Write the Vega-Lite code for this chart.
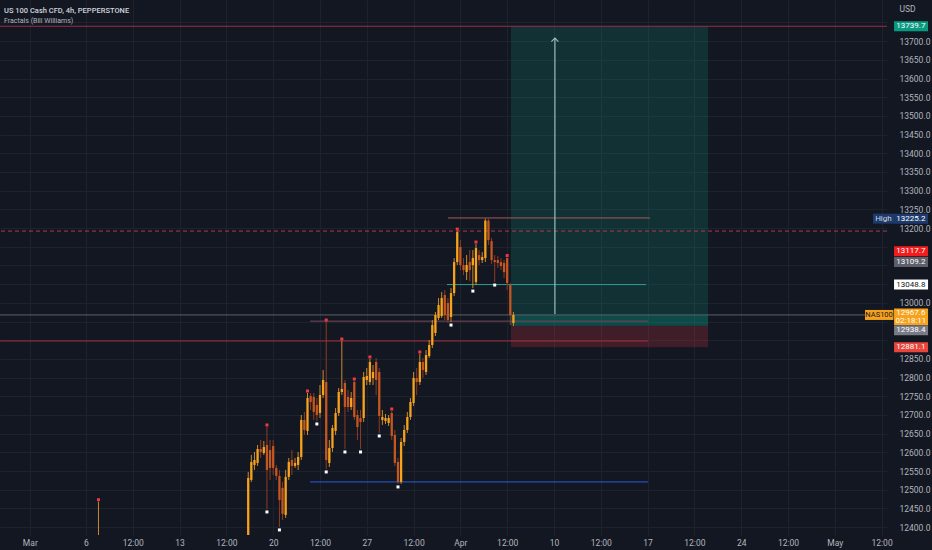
{
  "$schema": "https://vega.github.io/schema/vega-lite/v6.json",
  "width": 887,
  "height": 535,
  "autosize": {"type": "none"},
  "padding": {"left": 0, "top": 0, "right": 45, "bottom": 15},
  "background": "#131722",
  "config": {
    "view": {"stroke": null},
    "font": "Roboto",
    "axis": {"domain": false, "ticks": false, "tickSize": 0, "labelColor": "#b2b5be", "labelFontSize": 8.5, "labelFont": "Roboto", "gridColor": "#1e222d", "gridWidth": 1, "labelOverlap": false}
  },
  "title": {
    "text": "US 100 Cash CFD, 4h, PEPPERSTONE",
    "subtitle": "Fractals (Bill Williams)",
    "anchor": "start", "frame": "group", "orient": "top", "offset": -24, "dx": 4,
    "font": "Roboto", "fontSize": 7.5, "fontWeight": 500, "color": "#d1d4dc",
    "subtitleFont": "Roboto", "subtitleFontSize": 7, "subtitleColor": "#b2b5be", "subtitlePadding": 3
  },
  "datasets": {
    "position": [{"start": 136.2, "end": 199.4, "entry": 12938.4, "target": 13739.7, "stop": 12881.1, "last": 12967.6}],
    "levels": [
      {"p": 13227, "a": 116, "b": 180.8, "k": "high"},
      {"p": 13048.8, "a": 115.7, "b": 179.5, "k": "teal"},
      {"p": 12951, "a": 71.8, "b": 180.1, "k": "mid"},
      {"p": 12898, "a": -30, "b": 180.1, "k": "red"},
      {"p": 12521, "a": 71.8, "b": 180.1, "k": "blue"}
    ],
    "candles": [
      {"i": 4, "o": 12300, "h": 12468, "l": 12290, "c": 12340, "fu": 1},
      {"i": 52, "o": 12352.5, "h": 12547.7, "l": 12344.5, "c": 12531.6},
      {"i": 53, "o": 12526.3, "h": 12593.1, "l": 12520.9, "c": 12574.4},
      {"i": 54, "o": 12566.4, "h": 12601.1, "l": 12553.0, "c": 12579.7},
      {"i": 55, "o": 12571.7, "h": 12619.8, "l": 12563.7, "c": 12609.1},
      {"i": 56, "o": 12609.1, "h": 12633.2, "l": 12585.1, "c": 12601.1},
      {"i": 57, "o": 12598.4, "h": 12630.5, "l": 12593.1, "c": 12614.5},
      {"i": 58, "o": 12619.8, "h": 12667.9, "l": 12448.7, "c": 12553.0, "fu": 1, "fd": 1},
      {"i": 59, "o": 12606.3, "h": 12633.2, "l": 12526.3, "c": 12558.4},
      {"i": 60, "o": 12617.1, "h": 12633.2, "l": 12539.6, "c": 12558.4},
      {"i": 61, "o": 12558.4, "h": 12566.4, "l": 12526.3, "c": 12537.0},
      {"i": 62, "o": 12537.0, "h": 12553.0, "l": 12400.6, "c": 12472.8, "fd": 1},
      {"i": 63, "o": 12504.9, "h": 12520.9, "l": 12419.3, "c": 12435.4},
      {"i": 64, "o": 12432.7, "h": 12553.0, "l": 12424.7, "c": 12534.3},
      {"i": 65, "o": 12534.3, "h": 12585.1, "l": 12526.3, "c": 12574.4},
      {"i": 66, "o": 12579.7, "h": 12606.3, "l": 12539.6, "c": 12563.7},
      {"i": 67, "o": 12563.7, "h": 12585.1, "l": 12558.4, "c": 12571.7},
      {"i": 68, "o": 12566.4, "h": 12601.1, "l": 12553.0, "c": 12587.7},
      {"i": 69, "o": 12587.7, "h": 12700.0, "l": 12579.7, "c": 12686.7},
      {"i": 70, "o": 12686.7, "h": 12708.1, "l": 12646.6, "c": 12659.9},
      {"i": 71, "o": 12657.3, "h": 12758.8, "l": 12646.6, "c": 12745.5, "fu": 1},
      {"i": 72, "o": 12750.8, "h": 12758.8, "l": 12713.4, "c": 12734.8},
      {"i": 73, "o": 12748.1, "h": 12758.8, "l": 12686.7, "c": 12708.1},
      {"i": 74, "o": 12726.8, "h": 12745.5, "l": 12684.0, "c": 12700.0, "fd": 1},
      {"i": 75, "o": 12705.4, "h": 12780.2, "l": 12692.0, "c": 12753.5},
      {"i": 76, "o": 12753.5, "h": 12820.3, "l": 12745.5, "c": 12793.6},
      {"i": 77, "o": 12788.2, "h": 12948.6, "l": 12555.7, "c": 12579.7, "fu": 1, "fd": 1},
      {"i": 78, "o": 12571.7, "h": 12633.2, "l": 12561.0, "c": 12611.8},
      {"i": 79, "o": 12611.8, "h": 12673.3, "l": 12601.1, "c": 12665.3},
      {"i": 80, "o": 12657.3, "h": 12718.8, "l": 12646.6, "c": 12705.4},
      {"i": 81, "o": 12705.4, "h": 12772.2, "l": 12697.4, "c": 12761.5},
      {"i": 82, "o": 12761.5, "h": 12897.8, "l": 12753.5, "c": 12769.5, "fu": 1},
      {"i": 83, "o": 12785.5, "h": 12793.6, "l": 12609.1, "c": 12721.4, "fd": 1},
      {"i": 84, "o": 12748.1, "h": 12766.8, "l": 12708.1, "c": 12721.4},
      {"i": 85, "o": 12721.4, "h": 12761.5, "l": 12713.4, "c": 12745.5},
      {"i": 86, "o": 12788.2, "h": 12790.9, "l": 12686.7, "c": 12694.7, "fu": 1},
      {"i": 87, "o": 12700.0, "h": 12713.4, "l": 12633.2, "c": 12667.9},
      {"i": 88, "o": 12692.0, "h": 12713.4, "l": 12609.1, "c": 12681.3, "fd": 1},
      {"i": 89, "o": 12692.0, "h": 12815.0, "l": 12681.3, "c": 12801.6},
      {"i": 90, "o": 12793.6, "h": 12825.7, "l": 12780.2, "c": 12804.3},
      {"i": 91, "o": 12788.2, "h": 12849.8, "l": 12780.2, "c": 12841.7, "fu": 1},
      {"i": 92, "o": 12798.9, "h": 12833.7, "l": 12780.2, "c": 12815.0},
      {"i": 93, "o": 12841.7, "h": 12852.4, "l": 12753.5, "c": 12793.6},
      {"i": 94, "o": 12815.0, "h": 12825.7, "l": 12651.9, "c": 12697.4, "fd": 1},
      {"i": 95, "o": 12686.7, "h": 12713.4, "l": 12673.3, "c": 12694.7},
      {"i": 96, "o": 12684.0, "h": 12702.7, "l": 12676.0, "c": 12692.0},
      {"i": 97, "o": 12678.6, "h": 12700.0, "l": 12670.6, "c": 12692.0},
      {"i": 98, "o": 12705.4, "h": 12710.7, "l": 12633.2, "c": 12643.9, "fu": 1},
      {"i": 99, "o": 12646.6, "h": 12659.9, "l": 12563.7, "c": 12571.7},
      {"i": 100, "o": 12574.4, "h": 12585.1, "l": 12515.6, "c": 12520.9, "fd": 1},
      {"i": 101, "o": 12520.9, "h": 12638.5, "l": 12515.6, "c": 12627.9},
      {"i": 102, "o": 12627.9, "h": 12673.3, "l": 12617.1, "c": 12659.9},
      {"i": 103, "o": 12659.9, "h": 12708.1, "l": 12651.9, "c": 12694.7},
      {"i": 104, "o": 12694.7, "h": 12745.5, "l": 12686.7, "c": 12734.8},
      {"i": 105, "o": 12732.1, "h": 12815.0, "l": 12724.1, "c": 12798.9},
      {"i": 106, "o": 12798.9, "h": 12825.7, "l": 12753.5, "c": 12788.2},
      {"i": 107, "o": 12788.2, "h": 12863.1, "l": 12780.2, "c": 12841.7, "fu": 1},
      {"i": 108, "o": 12841.7, "h": 12852.4, "l": 12798.9, "c": 12820.3},
      {"i": 109, "o": 12815.0, "h": 12873.8, "l": 12807.0, "c": 12860.5},
      {"i": 110, "o": 12857.8, "h": 12900.5, "l": 12852.4, "c": 12887.2},
      {"i": 111, "o": 12887.2, "h": 12954.0, "l": 12879.2, "c": 12940.6},
      {"i": 112, "o": 12919.2, "h": 12975.4, "l": 12911.2, "c": 12967.4},
      {"i": 113, "o": 12959.3, "h": 13012.8, "l": 12954.0, "c": 12994.1},
      {"i": 114, "o": 12964.7, "h": 13028.8, "l": 12959.3, "c": 13012.8},
      {"i": 115, "o": 13020.8, "h": 13034.1, "l": 12954.0, "c": 12967.4},
      {"i": 116, "o": 12999.4, "h": 13012.8, "l": 12946.0, "c": 12954.0},
      {"i": 117, "o": 12962.0, "h": 13039.5, "l": 12948.6, "c": 13026.1, "fd": 1},
      {"i": 118, "o": 13026.1, "h": 13119.7, "l": 13018.1, "c": 13109.0},
      {"i": 119, "o": 13109.0, "h": 13191.9, "l": 13101.0, "c": 13189.2, "fu": 1},
      {"i": 120, "o": 13149.2, "h": 13167.8, "l": 13087.6, "c": 13101.0},
      {"i": 121, "o": 13101.0, "h": 13119.7, "l": 13074.3, "c": 13087.6},
      {"i": 122, "o": 13082.3, "h": 13127.8, "l": 13060.9, "c": 13101.0},
      {"i": 123, "o": 13109.0, "h": 13141.1, "l": 13058.2, "c": 13087.6},
      {"i": 124, "o": 13101.0, "h": 13141.1, "l": 13039.5, "c": 13119.7, "fd": 1},
      {"i": 125, "o": 13055.6, "h": 13157.2, "l": 13047.5, "c": 13146.5, "fu": 1},
      {"i": 126, "o": 13127.8, "h": 13141.1, "l": 13101.0, "c": 13114.4},
      {"i": 127, "o": 13114.4, "h": 13135.8, "l": 13106.4, "c": 13122.4},
      {"i": 128, "o": 13119.7, "h": 13225.2, "l": 13109.0, "c": 13220.0},
      {"i": 129, "o": 13220.0, "h": 13225.0, "l": 13154.5, "c": 13167.8},
      {"i": 130, "o": 13165.2, "h": 13173.2, "l": 13103.7, "c": 13114.4},
      {"i": 131, "o": 13114.4, "h": 13127.8, "l": 13055.6, "c": 13109.0, "fd": 1},
      {"i": 132, "o": 13114.4, "h": 13125.1, "l": 13093.0, "c": 13106.4},
      {"i": 133, "o": 13109.0, "h": 13119.7, "l": 13087.6, "c": 13098.4},
      {"i": 134, "o": 13106.4, "h": 13114.4, "l": 13066.2, "c": 13082.3},
      {"i": 135, "o": 13119.7, "h": 13121.1, "l": 13034.1, "c": 13052.9, "fu": 1},
      {"i": 136, "o": 13047.5, "h": 13052.9, "l": 12940.6, "c": 12967.4},
      {"i": 137, "o": 12946.0, "h": 12975.4, "l": 12938.0, "c": 12967.6}
    ],
    "tags": [
      {"v": 13739.7, "k": "target"},
      {"v": 13225.2, "k": "high"},
      {"v": 13109.2, "k": "gray1"},
      {"v": 13048.8, "k": "white"},
      {"v": 12881.1, "k": "red2"}
    ]
  },
  "layer": [
    {
      "data": {"name": "position"},
      "mark": {"type": "rect", "color": "#089981", "opacity": 0.2},
      "encoding": {
        "x": {"field": "start", "type": "quantitative",
          "scale": {"domain": [-27.56, 256.74], "nice": false, "zero": false, "padding": 0},
          "axis": {"orient": "bottom", "title": null, "grid": true, "tickCount": 40,
            "values": [-18, 0, 15, 30, 45, 60, 75, 90, 105, 120, 135, 150, 165, 180, 195, 210, 225, 240, 255],
            "labelExpr": "datum.value < 0 ? 'Mar' : ['6','12:00','13','12:00','20','12:00','27','12:00','Apr','12:00','10','12:00','17','12:00','24','12:00','May','12:00'][round(datum.value/15)]",
            "labelOverlap": false, "labelFlush": false, "labelPadding": 3, "labelBaseline": "top"}},
        "x2": {"field": "end"},
        "y": {"field": "entry", "type": "quantitative",
          "scale": {"domain": [12379, 13810], "nice": false, "zero": false, "padding": 0},
          "axis": {"orient": "right", "title": "USD", "grid": true, "tickCount": 40,
            "values": [12400, 12450, 12500, 12550, 12600, 12650, 12700, 12750, 12800, 12850, 12900, 12950, 13000, 13050, 13100, 13150, 13200, 13250, 13300, 13350, 13400, 13450, 13500, 13550, 13600, 13650, 13700, 13750],
            "labelExpr": "indexof([13750, 13150, 13100, 13050, 12950, 12900], datum.value) >= 0 ? '' : format(datum.value, '.1f')",
            "labelAlign": "left", "labelPadding": 12, "labelOverlap": false, "labelFlush": false,
            "titleAngle": 0, "titleX": 12, "titleY": 8, "titleAlign": "left", "titleBaseline": "middle",
            "titleFontSize": 8.5, "titleFontWeight": "normal", "titleColor": "#b2b5be", "titleFont": "Roboto"}},
        "y2": {"field": "target"}
      }
    },
    {
      "data": {"name": "position"},
      "mark": {"type": "rect", "color": "#f23645", "opacity": 0.2},
      "encoding": {
        "x": {"field": "start", "type": "quantitative"},
        "x2": {"field": "end"},
        "y": {"field": "stop", "type": "quantitative"},
        "y2": {"field": "entry"}
      }
    },
    {
      "data": {"name": "position"},
      "mark": {"type": "rect", "color": "#089981", "opacity": 0.25},
      "encoding": {
        "x": {"field": "start", "type": "quantitative"},
        "x2": {"field": "end"},
        "y": {"field": "entry", "type": "quantitative"},
        "y2": {"field": "last"}
      }
    },
    {
      "data": {"values": [{"p": 13739.7}]},
      "mark": {"type": "rule", "color": "#9b2b46", "strokeWidth": 1},
      "encoding": {"y": {"field": "p", "type": "quantitative"}}
    },
    {
      "data": {"values": [{"p": 13192}]},
      "mark": {"type": "rule", "color": "#b5384b", "strokeWidth": 1, "strokeDash": [4, 3]},
      "encoding": {"y": {"field": "p", "type": "quantitative"}}
    },
    {
      "data": {"values": [{"p": 12967.6}]},
      "mark": {"type": "rule", "color": "#5d606b", "strokeWidth": 1},
      "encoding": {"y": {"field": "p", "type": "quantitative"}}
    },
    {
      "data": {"name": "levels"},
      "mark": {"type": "rule", "strokeWidth": 1, "clip": true},
      "encoding": {
        "x": {"field": "a", "type": "quantitative"},
        "x2": {"field": "b"},
        "y": {"field": "p", "type": "quantitative"},
        "color": {"condition": [
          {"test": "datum.k == 'high'", "value": "#a85a58"},
          {"test": "datum.k == 'teal'", "value": "#2f9e93"},
          {"test": "datum.k == 'mid'", "value": "#7b4658"},
          {"test": "datum.k == 'blue'", "value": "#2a5bdc"}
        ], "value": "#a82f3f"}
      }
    },
    {
      "data": {"values": [{"i": 150.3, "from": 12970, "to": 13708}]},
      "mark": {"type": "rule", "color": "#a9d6d2", "strokeWidth": 1.2, "opacity": 0.85},
      "encoding": {
        "x": {"field": "i", "type": "quantitative"},
        "y": {"field": "from", "type": "quantitative"},
        "y2": {"field": "to"}
      }
    },
    {
      "data": {"values": [{"i": 150.3, "from": 12970, "to": 13708}]},
      "mark": {"type": "point", "shape": "M-1,1L0,0L1,1", "size": 49, "filled": false, "stroke": "#a9d6d2", "strokeWidth": 1.2, "opacity": 0.85},
      "encoding": {
        "x": {"field": "i", "type": "quantitative"},
        "y": {"field": "to", "type": "quantitative"}
      }
    },
    {
      "data": {"name": "candles"},
      "mark": {"type": "rule", "strokeWidth": 1, "clip": true},
      "encoding": {
        "x": {"field": "i", "type": "quantitative"},
        "y": {"field": "l", "type": "quantitative"},
        "y2": {"field": "h"},
        "color": {"condition": {"test": "datum.c >= datum.o", "value": "#c98a2b"}, "value": "#8f3b22"}
      }
    },
    {
      "data": {"name": "candles"},
      "mark": {"type": "bar", "width": 2.3, "clip": true},
      "encoding": {
        "x": {"field": "i", "type": "quantitative"},
        "y": {"field": "o", "type": "quantitative"},
        "y2": {"field": "c"},
        "color": {"condition": {"test": "datum.c >= datum.o", "value": "#f7a21b"}, "value": "#c4561f"}
      }
    },
    {
      "data": {"name": "candles"},
      "transform": [{"filter": "datum.fu == 1"}],
      "mark": {"type": "point", "shape": "square", "filled": true, "size": 9, "yOffset": -2, "color": "#f23645", "opacity": 1, "clip": true},
      "encoding": {
        "x": {"field": "i", "type": "quantitative"},
        "y": {"field": "h", "type": "quantitative"}
      }
    },
    {
      "data": {"name": "candles"},
      "transform": [{"filter": "datum.fd == 1"}],
      "mark": {"type": "point", "shape": "square", "filled": true, "size": 9, "yOffset": 3, "color": "#ffffff", "opacity": 1, "clip": true},
      "encoding": {
        "x": {"field": "i", "type": "quantitative"},
        "y": {"field": "l", "type": "quantitative"}
      }
    },
    {
      "data": {"name": "tags"},
      "transform": [{"filter": "datum.k == 'high'"}],
      "mark": {"type": "rect", "yOffset": -5, "y2Offset": 5, "color": "#1e3a6d"},
      "encoding": {
        "x": {"datum": 252.25, "type": "quantitative"},
        "x2": {"datum": 259},
        "y": {"field": "v", "type": "quantitative"},
        "y2": {"field": "v"}
      }
    },
    {
      "data": {"name": "tags"},
      "transform": [{"filter": "datum.k == 'high'"}],
      "mark": {"type": "text", "text": "High", "fontSize": 8, "color": "#d1d4dc", "align": "center", "baseline": "middle"},
      "encoding": {
        "x": {"datum": 255.6, "type": "quantitative"},
        "y": {"field": "v", "type": "quantitative"}
      }
    },
    {
      "data": {"name": "tags"},
      "mark": {"type": "rect", "yOffset": -5, "y2Offset": 5},
      "encoding": {
        "x": {"datum": 259, "type": "quantitative"},
        "x2": {"datum": 269.9},
        "y": {"field": "v", "type": "quantitative"},
        "y2": {"field": "v"},
        "color": {"condition": [
          {"test": "datum.k == 'target'", "value": "#089981"},
          {"test": "datum.k == 'high'", "value": "#1e3a6d"},
          {"test": "datum.k == 'gray1'", "value": "#5d606b"},
          {"test": "datum.k == 'white'", "value": "#ffffff"}
        ], "value": "#e8453c"}
      }
    },
    {
      "data": {"name": "tags"},
      "mark": {"type": "text", "fontSize": 8, "align": "center", "baseline": "middle"},
      "encoding": {
        "x": {"datum": 264.4, "type": "quantitative"},
        "y": {"field": "v", "type": "quantitative"},
        "text": {"field": "v", "type": "quantitative", "format": ".1f"},
        "color": {"condition": {"test": "datum.k == 'white'", "value": "#131722"}, "value": "#ffffff"}
      }
    },
    {
      "data": {"values": [{"v": 13117.7}]},
      "mark": {"type": "rect", "yOffset": -12.5, "y2Offset": -2.5, "color": "#f21c1c"},
      "encoding": {
        "x": {"datum": 259, "type": "quantitative"},
        "x2": {"datum": 269.9},
        "y": {"field": "v", "type": "quantitative"},
        "y2": {"field": "v"}
      }
    },
    {
      "data": {"values": [{"v": 13117.7}]},
      "mark": {"type": "text", "fontSize": 8, "align": "center", "baseline": "middle", "yOffset": -7.5, "color": "#ffffff"},
      "encoding": {
        "x": {"datum": 264.4, "type": "quantitative"},
        "y": {"field": "v", "type": "quantitative"},
        "text": {"field": "v", "type": "quantitative", "format": ".1f"}
      }
    },
    {
      "data": {"values": [{"v": 12938.4}]},
      "mark": {"type": "rect", "yOffset": -0.5, "y2Offset": 9.5, "color": "#787b86"},
      "encoding": {
        "x": {"datum": 259, "type": "quantitative"},
        "x2": {"datum": 269.9},
        "y": {"field": "v", "type": "quantitative"},
        "y2": {"field": "v"}
      }
    },
    {
      "data": {"values": [{"v": 12938.4}]},
      "mark": {"type": "text", "fontSize": 8, "align": "center", "baseline": "middle", "yOffset": 4.5, "color": "#ffffff"},
      "encoding": {
        "x": {"datum": 264.4, "type": "quantitative"},
        "y": {"field": "v", "type": "quantitative"},
        "text": {"field": "v", "type": "quantitative", "format": ".1f"}
      }
    },
    {
      "data": {"values": [{"v": 12967.6, "timer": "02:18:11", "sym": "NAS100"}]},
      "mark": {"type": "rect", "yOffset": -6.5, "y2Offset": 10, "color": "#f7a21b"},
      "encoding": {
        "x": {"datum": 259, "type": "quantitative"},
        "x2": {"datum": 269.9},
        "y": {"field": "v", "type": "quantitative"},
        "y2": {"field": "v"}
      }
    },
    {
      "data": {"values": [{"v": 12967.6, "timer": "02:18:11", "sym": "NAS100"}]},
      "mark": {"type": "rect", "yOffset": -5, "y2Offset": 5, "color": "#f7a21b"},
      "encoding": {
        "x": {"datum": 249.7, "type": "quantitative"},
        "x2": {"datum": 258.8},
        "y": {"field": "v", "type": "quantitative"},
        "y2": {"field": "v"}
      }
    },
    {
      "data": {"values": [{"v": 12967.6, "timer": "02:18:11", "sym": "NAS100"}]},
      "mark": {"type": "text", "fontSize": 8, "align": "center", "baseline": "middle", "yOffset": -1.5, "color": "#ffffff"},
      "encoding": {
        "x": {"datum": 264.4, "type": "quantitative"},
        "y": {"field": "v", "type": "quantitative"},
        "text": {"field": "v", "type": "quantitative", "format": ".1f"}
      }
    },
    {
      "data": {"values": [{"v": 12967.6, "timer": "02:18:11", "sym": "NAS100"}]},
      "mark": {"type": "text", "fontSize": 8, "align": "center", "baseline": "middle", "yOffset": 6, "color": "#ffffff"},
      "encoding": {
        "x": {"datum": 264.4, "type": "quantitative"},
        "y": {"field": "v", "type": "quantitative"},
        "text": {"field": "timer"}
      }
    },
    {
      "data": {"values": [{"v": 12967.6, "timer": "02:18:11", "sym": "NAS100"}]},
      "mark": {"type": "text", "fontSize": 7.5, "align": "center", "baseline": "middle", "color": "#131722"},
      "encoding": {
        "x": {"datum": 254.2, "type": "quantitative"},
        "y": {"field": "v", "type": "quantitative"},
        "text": {"field": "sym"}
      }
    }
  ]
}
